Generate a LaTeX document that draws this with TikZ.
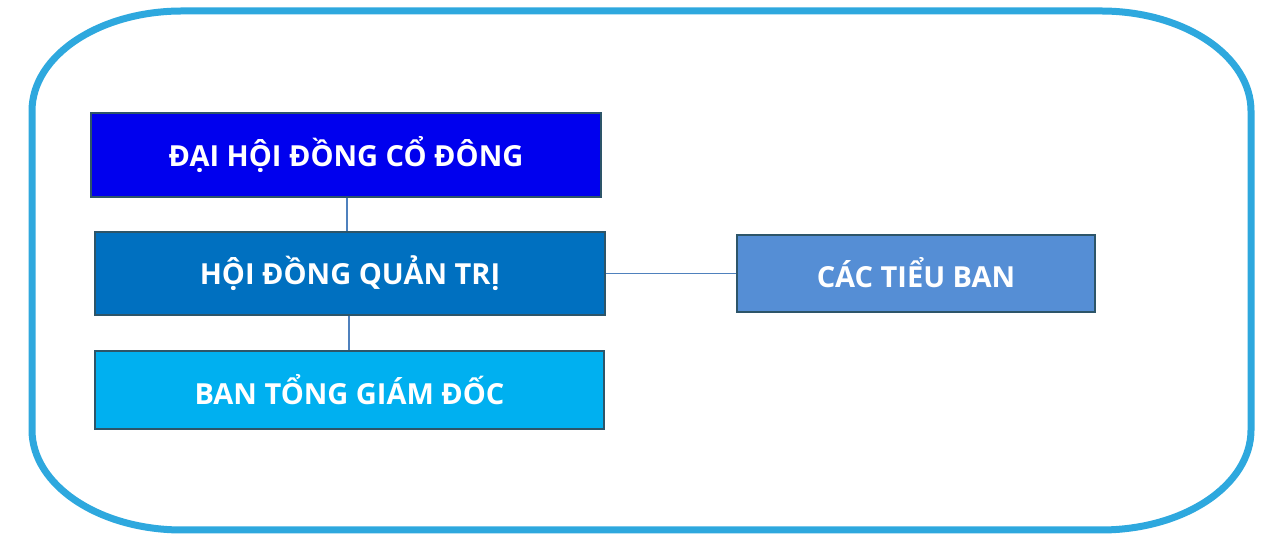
\documentclass[tikz,border=0pt]{standalone}
\usepackage{fontspec}
\setmainfont{Open Sans}
\definecolor{frame}{RGB}{46,168,222}
\definecolor{edge}{RGB}{45,85,105}
\definecolor{link}{RGB}{79,129,189}
\definecolor{cA}{RGB}{0,0,238}
\definecolor{cB}{RGB}{0,112,192}
\definecolor{cC}{RGB}{0,176,240}
\definecolor{cD}{RGB}{85,142,213}
\tikzset{
  orgbox/.style={draw=edge, line width=1.6pt, text=white, font=\fontsize{29}{34}\selectfont\bfseries, inner sep=0pt, align=center},
  conn/.style={draw=link, line width=1.8pt}
}
\begin{document}
\begin{tikzpicture}[x=1pt,y=1pt]
\useasboundingbox (0,0) rectangle (1265,534);
\draw[frame, line width=7pt] (182,523) -- (1101,523)
  arc[start angle=90, end angle=0, x radius=150, y radius=100] -- (1251,104)
  arc[start angle=0, end angle=-90, x radius=150, y radius=100] -- (182,4)
  arc[start angle=270, end angle=180, x radius=150, y radius=100] -- (32,423)
  arc[start angle=180, end angle=90, x radius=150, y radius=100] -- cycle;
\node[orgbox, fill=cA, minimum width=510pt, minimum height=84pt] (b1) at (346,379) {\raisebox{2pt}{ĐẠI HỘI ĐỒNG CỔ ĐÔNG}};
\node[orgbox, fill=cB, minimum width=510pt, minimum height=83pt] (b2) at (350,260.5) {\raisebox{1pt}{HỘI ĐỒNG QUẢN TRỊ}};
\node[orgbox, fill=cC, minimum width=509pt, minimum height=78pt] (b3) at (349.5,144) {\raisebox{2pt}{BAN TỔNG GIÁM ĐỐC}};
\node[orgbox, fill=cD, minimum width=358pt, minimum height=77pt] (b4) at (916,260.5) {\raisebox{2pt}{CÁC TIỂU BAN}};
\draw[conn] ([xshift=1pt]b1.south) -- ([xshift=1pt]b1.south |- b2.north);
\draw[conn] ([xshift=-1pt]b2.south) -- ([xshift=-1pt]b2.south |- b3.north);
\draw[conn] (b2.east) -- (b4.west);
\end{tikzpicture}
\end{document}
